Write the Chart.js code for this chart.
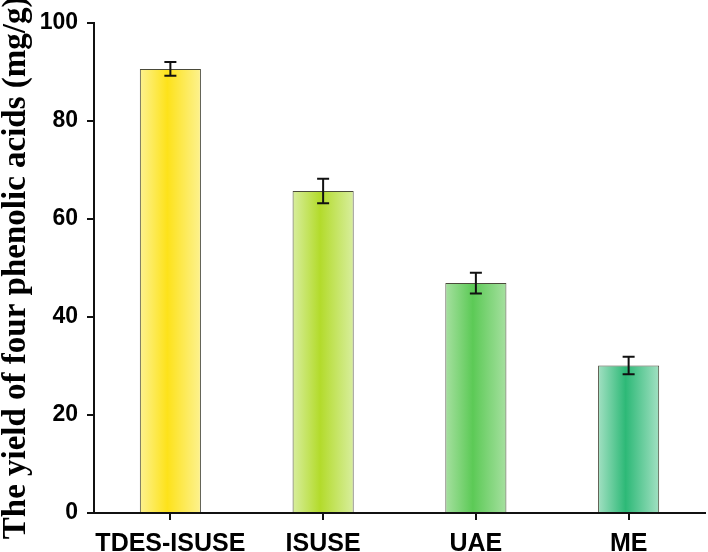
<!DOCTYPE html>
<html>
<head>
<meta charset="utf-8">
<script src="https://cdn.jsdelivr.net/npm/chart.js@4"></script>
<style>
  html, body { margin: 0; padding: 0; background: #fff; }
  #wrap { width: 708px; height: 552px; }
</style>
</head>
<body>
<div id="wrap"><canvas id="graph" width="708" height="552"></canvas></div>
<script>
// ==========================================
// DONNÉES
// ==========================================

const methodes = ["TDES-ISUSE", "ISUSE", "UAE", "ME"];
const rendements = [90.6, 65.7, 46.9, 30.1];
const ecarts = [1.4, 2.5, 2.1, 1.8];
const ticksY = [0, 20, 40, 60, 80, 100];

// couleurs : bord clair / centre saturé
const bordsClairs = ["#fdf290", "#d8ee9e", "#a6e0a0", "#a2e0c2"];
const centres = ["#fde21a", "#b3db2b", "#5cca56", "#2db977"];

// ==========================================
// DÉGRADÉ HORIZONTAL DANS CHAQUE BARRE
// ==========================================

function degrade(ctx) {
    const chart = ctx.chart;
    const x = chart.scales.x;
    if (!x || !chart.chartArea) return centres[ctx.dataIndex];
    const c = x.getPixelForValue(ctx.dataIndex);
    const l = (x.right - x.left) / methodes.length * 0.4;
    const g = chart.ctx.createLinearGradient(c - l / 2, 0, c + l / 2, 0);
    g.addColorStop(0, bordsClairs[ctx.dataIndex]);
    g.addColorStop(0.45, centres[ctx.dataIndex]);
    g.addColorStop(1, bordsClairs[ctx.dataIndex]);
    return g;
}

// ==========================================
// BARRES D'ERREUR
// ==========================================

const barresErreur = {
    id: "barresErreur",
    afterDatasetsDraw(chart) {
        const c = chart.ctx;
        const x = chart.scales.x;
        const y = chart.scales.y;
        c.save();
        c.strokeStyle = "#111";
        c.lineWidth = 2;
        rendements.forEach((v, i) => {
            const px = x.getPixelForValue(i);
            const haut = y.getPixelForValue(v + ecarts[i]);
            const bas = y.getPixelForValue(v - ecarts[i]);
            c.beginPath();
            c.moveTo(px, haut); c.lineTo(px, bas);
            c.moveTo(px - 6, haut); c.lineTo(px + 6, haut);
            c.moveTo(px - 6, bas); c.lineTo(px + 6, bas);
            c.stroke();
        });
        c.restore();
    }
};

new Chart(document.getElementById("graph"), {
    type: "bar",
    data: {
        labels: methodes,
        datasets: [{
            data: rendements,
            backgroundColor: degrade,
            borderColor: "#4a4a3a",
            borderWidth: 1,
            categoryPercentage: 1,
            barPercentage: 0.4
        }]
    },
    options: {
        responsive: false,
        animation: false,
        layout: { padding: { top: 11, right: 3, left: 0, bottom: 0 } },
        plugins: { legend: { display: false }, tooltip: { enabled: false } },
        scales: {
            x: {
                afterFit: (s) => { s.height = 39; },
                grid: {
                    display: true, drawOnChartArea: false, offset: false,
                    color: "#111", lineWidth: 2, tickLength: 7
                },
                border: { color: "#111", width: 2 },
                ticks: {
                    color: "#000", padding: 13,
                    maxRotation: 0, minRotation: 0, autoSkip: false,
                    font: { family: "Liberation Sans", weight: "bold", size: 25, lineHeight: 0.92 }
                }
            },
            y: {
                min: 0, max: 100,
                afterFit: (s) => { s.width = 94; },
                afterBuildTicks: (s) => { s.ticks = ticksY.map(v => ({ value: v })); },
                grid: {
                    display: true, drawOnChartArea: false,
                    color: "#111", lineWidth: 2, tickLength: 7
                },
                border: { color: "#111", width: 2 },
                ticks: {
                    color: "#000", padding: 9,
                    font: { family: "Liberation Sans", weight: "bold", size: 23 }
                },
                title: {
                    display: true,
                    text: "The yield of four phenolic acids (mg/g)",
                    color: "#000", padding: { top: 0, bottom: 0 },
                    font: { family: "Liberation Serif, Times New Roman", weight: "bold", size: 33, lineHeight: 1.0 }
                }
            }
        }
    },
    plugins: [barresErreur]
});
</script>
</body>
</html>
